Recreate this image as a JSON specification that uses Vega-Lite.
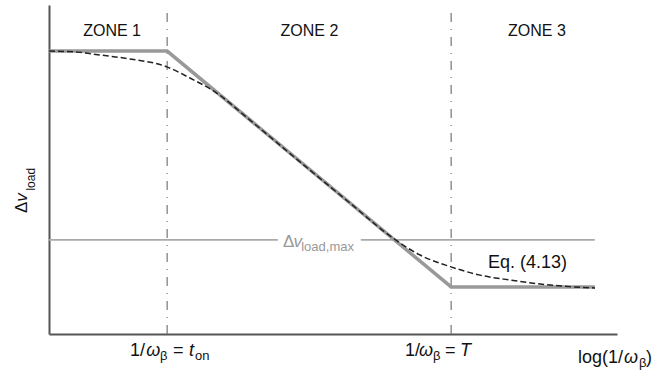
{
  "$schema": "https://vega.github.io/schema/vega-lite/v6.json",
  "width": 568,
  "height": 329,
  "autosize": "none",
  "padding": {"left": 49, "top": 5, "right": 38, "bottom": 40},
  "background": "white",
  "config": {"view": {"stroke": null}, "text": {"font": "Liberation Sans"}},
  "datasets": {
    "vlines": [{"x": 20.8, "y": 0, "y2": 97.6}, {"x": 70.8, "y": 0, "y2": 97.6}],
    "maxline": [{"x": 0, "x2": 40.3, "y": 28.6}, {"x": 54.9, "x2": 96.1, "y": 28.6}],
    "asymptote": [{"x": 0, "y": 86.0}, {"x": 20.8, "y": 86.0}, {"x": 70.8, "y": 14.3}, {"x": 96.1, "y": 14.3}],
    "curve": [
      {"x": 0, "y": 86.0}, {"x": 5.46, "y": 85.6}, {"x": 8.98, "y": 84.8}, {"x": 14.26, "y": 83.6},
      {"x": 20.77, "y": 81.2}, {"x": 24.82, "y": 77.8}, {"x": 29.23, "y": 73.6}, {"x": 35.39, "y": 65.0},
      {"x": 44.19, "y": 52.3}, {"x": 52.99, "y": 39.8}, {"x": 60.04, "y": 29.8}, {"x": 65.32, "y": 24.0},
      {"x": 70.77, "y": 20.4}, {"x": 75.88, "y": 17.9}, {"x": 81.16, "y": 16.4}, {"x": 86.44, "y": 15.2},
      {"x": 91.73, "y": 14.4}, {"x": 96.13, "y": 14.0}
    ],
    "zones": [{"x": 11.1, "y": 90.7, "text": "ZONE 1"}, {"x": 45.86, "y": 90.7, "text": "ZONE 2"}, {"x": 85.9, "y": 90.7, "text": "ZONE 3"}],
    "upright": [
      {"x": 14.26, "y": -6.69, "text": "1/"}, {"x": 21.83, "y": -6.69, "text": "="},
      {"x": 62.68, "y": -6.69, "text": "1/"}, {"x": 69.72, "y": -6.69, "text": "="},
      {"x": 93.13, "y": -8.81, "text": "log(1/"}, {"x": 105.1, "y": -8.81, "text": ")"},
      {"x": 77.29, "y": 20.06, "text": "Eq. (4.13)"}
    ],
    "italic": [
      {"x": 17.1, "y": -6.69, "text": "ω"}, {"x": 24.65, "y": -6.69, "text": "t"},
      {"x": 65.15, "y": -6.69, "text": "ω"}, {"x": 72.36, "y": -6.69, "text": "T"},
      {"x": 101.23, "y": -8.81, "text": "ω"}
    ],
    "subs": [
      {"x": 19.54, "y": -7.9, "text": "β"}, {"x": 25.7, "y": -7.9, "text": "on"},
      {"x": 67.61, "y": -7.9, "text": "β"}, {"x": 103.87, "y": -10.0, "text": "β"}
    ],
    "maxMain": [{"x": 41.2, "y": 26.44, "text": "Δ"}],
    "maxItal": [{"x": 43.05, "y": 26.44, "text": "v"}],
    "maxSub": [{"x": 44.4, "y": 25.23, "text": "load,max"}],
    "ytMain": [{"x": -3.87, "y": 36.78, "text": "Δ"}],
    "ytItal": [{"x": -3.87, "y": 40.2, "text": "v"}],
    "ytSub": [{"x": -2.46, "y": 43.6, "text": "load"}]
  },
  "encoding": {
    "x": {"field": "x", "type": "quantitative", "scale": {"domain": [0, 100], "nice": false, "zero": false},
      "axis": {"domain": true, "domainColor": "#555", "domainWidth": 2, "ticks": false, "labels": false, "grid": false, "title": null}},
    "y": {"field": "y", "type": "quantitative", "scale": {"domain": [0, 100], "nice": false, "zero": false},
      "axis": {"domain": true, "domainColor": "#555", "domainWidth": 2, "ticks": false, "labels": false, "grid": false, "title": null}}
  },
  "layer": [
    {"data": {"name": "vlines"}, "mark": {"type": "rule", "color": "#777", "strokeWidth": 1.2, "strokeDash": [9, 7, 1, 7]},
      "encoding": {"y2": {"field": "y2"}}},
    {"data": {"name": "maxline"}, "mark": {"type": "rule", "color": "#aaa", "strokeWidth": 1.6},
      "encoding": {"x2": {"field": "x2"}}},
    {"data": {"name": "asymptote"}, "mark": {"type": "line", "color": "#999", "strokeWidth": 3.5, "clip": false}, "encoding": {}},
    {"data": {"name": "curve"}, "mark": {"type": "line", "color": "#222", "strokeWidth": 1.5, "strokeDash": [6, 3], "interpolate": "monotone"}, "encoding": {}},
    {"data": {"name": "zones"}, "mark": {"type": "text", "fontSize": 16, "align": "center", "baseline": "alphabetic", "color": "#111"},
      "encoding": {"text": {"field": "text"}}},
    {"data": {"name": "upright"}, "mark": {"type": "text", "fontSize": 18, "align": "left", "baseline": "alphabetic", "color": "#111", "clip": false},
      "encoding": {"text": {"field": "text"}}},
    {"data": {"name": "italic"}, "mark": {"type": "text", "fontSize": 18, "fontStyle": "italic", "align": "left", "baseline": "alphabetic", "color": "#111"},
      "encoding": {"text": {"field": "text"}}},
    {"data": {"name": "subs"}, "mark": {"type": "text", "fontSize": 13, "align": "left", "baseline": "alphabetic", "color": "#111"},
      "encoding": {"text": {"field": "text"}}},
    {"data": {"name": "maxMain"}, "mark": {"type": "text", "fontSize": 17, "align": "left", "baseline": "alphabetic", "color": "#999"},
      "encoding": {"text": {"field": "text"}}},
    {"data": {"name": "maxItal"}, "mark": {"type": "text", "fontSize": 17, "fontStyle": "italic", "align": "left", "baseline": "alphabetic", "color": "#999"},
      "encoding": {"text": {"field": "text"}}},
    {"data": {"name": "maxSub"}, "mark": {"type": "text", "fontSize": 13, "align": "left", "baseline": "alphabetic", "color": "#999"},
      "encoding": {"text": {"field": "text"}}},
    {"data": {"name": "ytMain"}, "mark": {"type": "text", "fontSize": 17, "angle": 270, "align": "left", "baseline": "alphabetic", "color": "#111"},
      "encoding": {"text": {"field": "text"}}},
    {"data": {"name": "ytItal"}, "mark": {"type": "text", "fontSize": 17, "fontStyle": "italic", "angle": 270, "align": "left", "baseline": "alphabetic", "color": "#111"},
      "encoding": {"text": {"field": "text"}}},
    {"data": {"name": "ytSub"}, "mark": {"type": "text", "fontSize": 12, "angle": 270, "align": "left", "baseline": "alphabetic", "color": "#111"},
      "encoding": {"text": {"field": "text"}}}
  ]
}
